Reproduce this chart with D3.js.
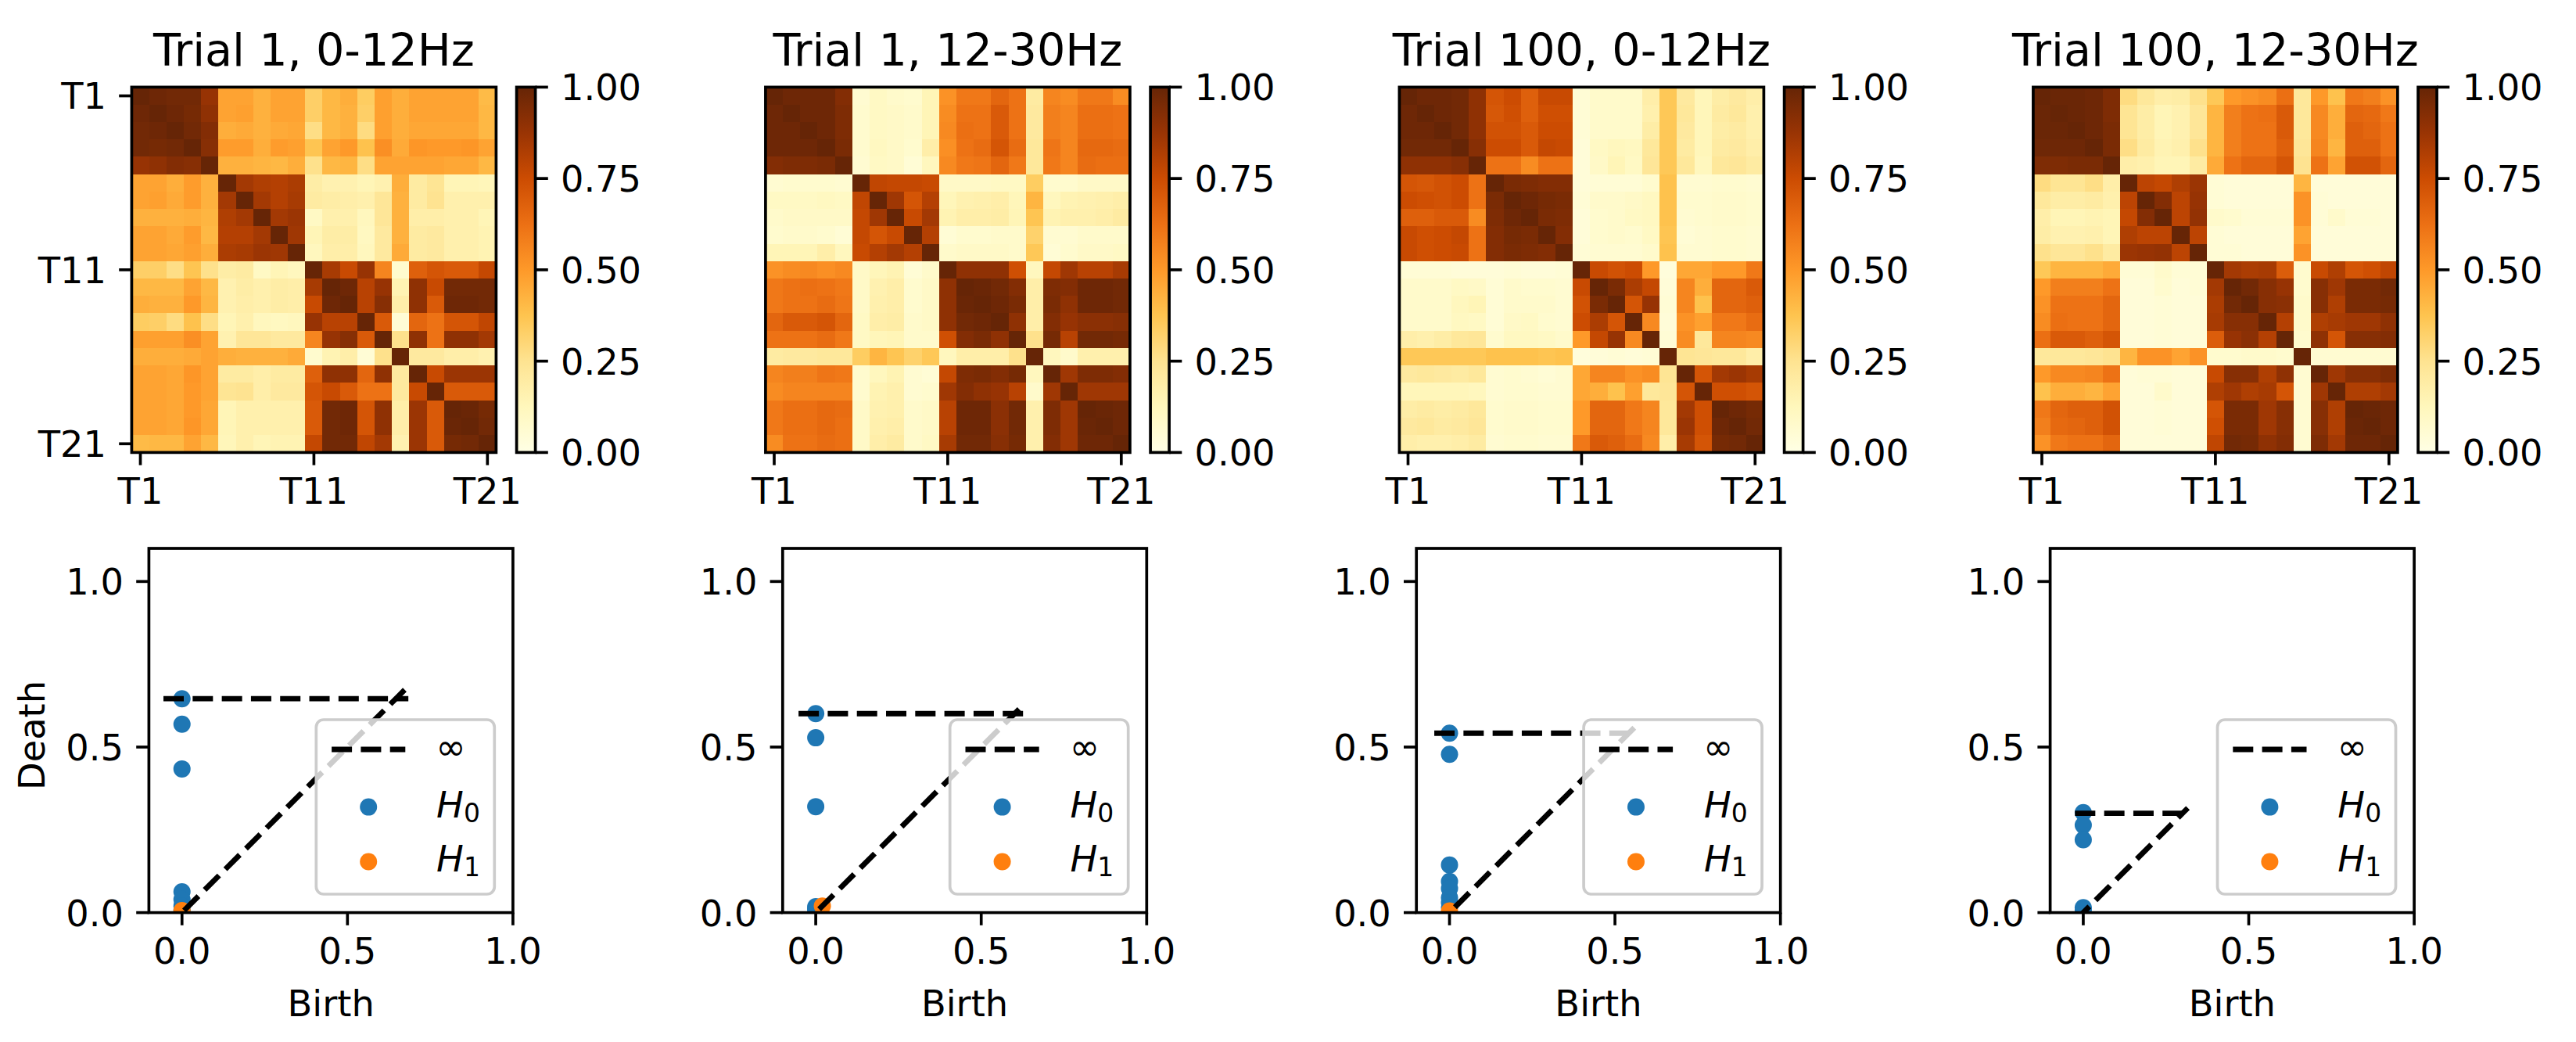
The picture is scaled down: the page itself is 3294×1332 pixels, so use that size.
<!DOCTYPE html>
<html>
<head>
<meta charset="utf-8">
<script src="https://cdn.jsdelivr.net/npm/d3@7"></script>
<style>
	body { margin: 0; background: #fff; }
	text { font-family: "DejaVu Sans", sans-serif; fill: #000; }
	.tick line { stroke: #000; stroke-width: 3.7px; }
	.tick text { font-size: 46.3px; }
</style>
</head>
<body>
<div id="chart"></div>
<script>
// panel titles
var titles = ['Trial 1, 0-12Hz', 'Trial 1, 12-30Hz', 'Trial 100, 0-12Hz', 'Trial 100, 12-30Hz'];

// tick labels
var tetrodeTicks = [0, 10, 20],
	tetrodeLabels = ['T1', 'T11', 'T21'],
	colorbarTicks = [0, 0.25, 0.5, 0.75, 1],
	diagramTicks = [0, 0.5, 1];

// correlation matrices, in percent
var trial1Low = [
	[100,98,97,97,88,47,47,43,47,47,33,41,44,34,48,44,47,47,47,47,40],
	[98,100,98,96,90,47,48,43,47,47,33,41,43,33,48,44,47,47,47,47,41],
	[97,98,100,97,93,44,45,43,45,46,27,41,43,28,48,44,46,46,46,46,41],
	[97,96,97,100,92,49,49,44,49,48,37,47,50,38,53,45,51,50,50,51,47],
	[88,90,93,92,100,43,43,42,41,44,26,41,42,27,47,47,47,47,46,46,41],
	[47,47,44,49,43,100,85,82,81,83,19,16,16,14,16,44,20,24,14,14,13],
	[47,48,45,49,43,85,100,85,81,84,20,19,18,17,23,43,20,25,17,17,17],
	[43,43,43,44,42,82,85,100,85,87,10,17,17,12,23,43,18,18,17,17,14],
	[47,47,45,49,41,81,81,85,100,86,14,19,19,11,21,43,20,21,17,17,15],
	[47,47,46,48,44,83,84,87,86,100,12,18,18,12,21,45,20,21,17,17,15],
	[33,33,27,37,26,19,20,10,14,12,100,84,76,88,56,7,68,72,70,70,77],
	[41,41,41,47,41,16,19,17,19,18,84,100,98,80,88,15,90,76,97,97,97],
	[44,43,43,50,42,16,18,17,19,18,76,98,100,80,92,18,90,70,98,98,97],
	[34,33,28,38,27,14,17,12,11,12,88,80,80,100,70,5,66,62,72,72,78],
	[48,48,48,53,47,16,23,23,21,21,56,88,92,70,100,26,90,62,90,90,85],
	[44,44,44,45,47,44,43,43,43,45,7,15,18,5,26,100,21,21,18,18,16],
	[47,47,46,51,47,20,20,18,20,20,68,90,90,66,90,21,100,76,87,87,87],
	[47,47,46,50,47,24,25,18,21,21,72,76,70,62,62,21,76,100,70,70,70],
	[47,47,46,50,46,14,17,17,17,17,70,97,98,72,90,18,87,70,100,99,96],
	[47,47,46,51,46,14,17,17,17,17,70,97,98,72,90,18,87,70,99,100,97],
	[40,41,41,47,41,13,17,14,15,15,77,97,97,78,85,16,87,70,96,97,100]
];

var trial1High = [
	[100,98,98,98,93,6,10,8,7,14,52,60,60,66,62,20,56,54,60,60,54],
	[98,100,98,98,94,7,10,9,8,14,54,62,62,70,62,21,58,56,63,63,62],
	[98,98,100,98,94,7,10,9,8,14,55,63,62,70,62,21,58,56,63,63,62],
	[98,98,98,100,95,7,11,9,7,18,53,62,64,72,64,22,61,56,65,65,64],
	[93,94,94,95,100,6,10,9,5,12,55,60,61,66,60,22,60,56,64,63,63],
	[6,7,7,7,6,100,78,77,77,76,9,9,9,10,10,34,7,7,9,9,9],
	[10,10,10,11,10,78,100,86,72,81,13,16,17,18,13,42,12,15,16,17,18],
	[8,9,9,9,9,77,86,100,76,85,15,18,18,19,14,37,15,17,17,18,20],
	[7,8,8,7,5,77,72,76,100,81,5,7,7,8,8,32,6,6,8,8,8],
	[14,14,14,18,12,76,81,85,81,100,8,9,9,9,8,36,5,7,9,9,10],
	[52,54,55,53,55,9,13,15,5,8,100,90,90,90,74,12,77,86,80,80,84],
	[60,62,63,62,60,9,16,18,7,9,90,100,99,97,93,18,94,93,98,98,97],
	[60,62,62,64,61,9,17,18,7,9,90,99,100,98,95,18,95,90,98,98,97],
	[66,70,70,72,66,10,18,19,8,9,90,97,98,100,90,18,93,88,91,91,92],
	[62,62,62,64,60,10,13,14,8,8,74,93,95,90,100,26,96,80,97,97,96],
	[20,21,21,22,22,34,42,37,32,36,12,18,18,18,26,100,12,8,17,17,17],
	[56,58,58,61,60,7,12,15,6,5,77,94,95,93,96,12,100,86,94,94,93],
	[54,56,56,56,56,7,15,17,6,7,86,93,90,88,80,8,86,100,86,86,86],
	[60,63,63,65,64,9,16,17,8,9,80,98,98,91,97,17,94,86,100,99,98],
	[60,63,63,65,63,9,17,18,8,9,80,98,98,91,97,17,94,86,99,100,98],
	[54,62,62,64,63,9,18,20,8,10,84,97,97,92,96,17,93,86,98,98,100]
];

var trial100Low = [
	[100,98,98,97,90,72,75,68,76,76,5,8,8,8,18,36,21,13,19,21,18],
	[98,100,98,97,90,71,74,68,74,74,5,8,8,8,17,36,22,13,20,22,17],
	[98,98,100,97,90,73,73,70,75,75,5,8,8,8,19,36,21,13,19,20,17],
	[97,97,97,100,92,75,75,70,77,76,4,10,12,11,22,36,20,13,20,21,18],
	[90,90,90,92,100,62,62,54,62,62,4,9,14,10,23,36,22,12,22,23,20],
	[72,71,73,75,62,100,95,94,93,93,4,5,5,5,7,38,6,6,7,7,6],
	[75,74,73,75,62,95,100,98,96,95,5,8,8,9,11,38,7,7,8,8,7],
	[68,68,70,70,54,94,98,100,95,94,4,7,8,10,11,38,6,7,8,8,7],
	[76,74,75,77,62,93,96,95,100,93,4,7,8,7,10,37,5,6,7,7,6],
	[76,74,75,76,62,93,95,94,93,100,5,6,6,6,8,38,6,6,7,7,6],
	[5,5,5,4,4,4,5,4,4,5,100,76,73,75,50,3,46,46,50,50,60],
	[8,8,8,10,9,5,8,7,7,6,76,100,95,83,77,4,56,44,66,66,70],
	[8,8,8,12,14,5,8,8,8,6,73,95,100,72,88,5,56,38,66,66,68],
	[8,8,8,11,10,5,9,10,7,6,75,83,72,100,55,4,52,48,60,60,64],
	[18,17,19,22,23,7,11,11,10,8,50,77,88,55,100,5,54,22,56,56,55],
	[36,36,36,36,36,38,38,38,37,38,3,4,5,4,5,100,24,23,22,22,18],
	[21,22,21,20,22,6,7,6,5,6,46,56,56,52,54,24,100,72,85,87,84],
	[13,13,13,13,12,6,7,7,6,6,46,44,38,48,22,23,72,100,74,74,72],
	[19,20,19,20,22,7,8,8,7,7,50,66,66,60,56,22,85,74,100,98,96],
	[21,22,20,21,23,7,8,8,7,7,50,66,66,60,56,22,87,74,98,100,97],
	[18,17,17,18,20,6,7,7,6,6,60,70,68,64,55,18,84,72,96,97,100]
];

var trial100High = [
	[100,99,99,98,94,28,22,18,19,26,36,50,52,54,63,22,50,38,60,58,52],
	[99,100,99,98,94,24,19,14,16,23,42,58,62,63,70,22,55,44,66,65,60],
	[99,99,100,98,95,24,19,14,16,23,42,58,62,62,70,22,55,44,68,66,62],
	[98,98,98,100,95,27,20,15,17,26,42,58,62,62,68,23,56,42,68,68,62],
	[94,94,95,95,100,18,17,14,14,20,45,62,66,66,72,25,62,47,73,73,66],
	[28,24,24,27,18,100,79,77,82,87,5,4,4,4,4,42,4,4,4,4,4],
	[22,19,19,20,17,79,100,93,79,88,5,4,4,4,4,52,5,4,4,4,4],
	[18,14,14,15,14,77,93,100,79,89,8,7,5,5,5,52,5,8,5,5,4],
	[19,16,16,17,14,82,79,79,100,79,5,4,4,4,4,47,4,4,4,4,4],
	[26,23,23,26,20,87,88,89,79,100,5,5,4,4,4,52,4,4,4,4,4],
	[36,42,42,42,45,5,5,8,5,5,100,85,83,84,69,7,76,82,72,74,78],
	[50,58,58,58,62,4,4,7,4,5,85,100,97,92,88,7,92,86,95,95,97],
	[52,62,62,62,66,4,4,5,4,4,83,97,100,92,91,8,92,82,95,95,96],
	[54,63,62,62,66,4,4,5,4,4,84,92,92,100,81,8,82,84,86,86,90],
	[63,70,70,68,72,4,4,5,4,4,69,88,91,81,100,7,90,72,92,92,93],
	[22,22,22,23,25,42,52,52,47,52,7,7,8,8,7,100,6,6,6,6,6],
	[50,55,55,56,62,4,5,5,4,4,76,92,92,82,90,6,100,86,92,92,94],
	[38,44,44,42,47,4,4,8,4,4,82,86,82,84,72,6,86,100,82,82,85],
	[60,66,68,68,73,4,4,5,4,4,72,95,95,86,92,6,92,82,100,99,98],
	[58,65,66,68,73,4,4,5,4,4,74,95,95,86,92,6,92,82,99,100,98],
	[52,60,62,62,66,4,4,4,4,4,78,97,96,90,93,6,94,85,98,98,100]
];

var matrices = [trial1Low, trial1High, trial100Low, trial100High];

// persistence diagrams: H0 points are all born at 0, so only the deaths are listed
var h0Deaths = [
	[0.646, 0.569, 0.434, 0.063, 0.04, 0.02, 0.008],
	[0.601, 0.528, 0.32, 0.018, 0.012, 0.008],
	[0.542, 0.478, 0.144, 0.094, 0.073, 0.045, 0.03, 0.015],
	[0.302, 0.264, 0.22, 0.015, 0.008]
];
var h1Births = [[0], [0.02], [0], []],
	h1Deaths = [[0.006], [0.02], [0.005], []];

// ends of the diagonal and the infinity line, and the height of the infinity line
var lineStart = [-0.056, -0.052, -0.046, -0.025],
	lineEnd = [0.684, 0.63, 0.563, 0.316],
	infinity = [0.646, 0.601, 0.542, 0.3];

// svg container
var svgWidth = 3294,
	svgHeight = 1332;

var svg = d3.select('#chart')
	.append('svg')
	.attr('width', svgWidth)
	.attr('height', svgHeight)
	.style('display', 'block');

var defs = svg.append('defs');

// panel layout
var heatSize = { w: 466, h: 467 },
	heatTop = 111.4,
	heatLeft = i => 168.4 + i * 810.5,
	barGap = 26.2,
	barWidth = 24,
	plotSize = { w: 465.5, h: 465.6 },
	plotTop = 701,
	plotLeft = i => 190.4 + i * 810.4;

var lineWidth = 3.7,
	dashWidth = 6.9,
	dash = '26 11.3',
	dotRadius = 11,
	blue = '#1f77b4',
	orange = '#ff7f0e';

// same colours as the YlOrBr colormap, linear between its 9 stops
var colorStops = d3.schemeYlOrBr[9],
	color = d3.scaleLinear()
		.domain(colorStops.map((c, i) => i / 8))
		.range(colorStops);

var gradient = defs.append('linearGradient')
	.attr('id', 'barGradient')
	.attr('x1', 0).attr('x2', 0)
	.attr('y1', 1).attr('y2', 0);
gradient.selectAll('stop')
	.data(colorStops)
	.enter()
	.append('stop')
	.attr('offset', (c, i) => i / 8)
	.attr('stop-color', c => c);

function centerLabels(axisGroup) {
	axisGroup.select('.domain').remove();
	axisGroup.selectAll('.tick text').attr('dy', '.365em');
}

function frame(group, w, h) {
	group.append('rect')
		.attr('width', w)
		.attr('height', h)
		.attr('fill', 'none')
		.attr('stroke', '#000')
		.attr('stroke-width', lineWidth);
}

// top row, correlation heatmaps with a colorbar
matrices.forEach((matrix, p) => {
	var g = svg.append('g')
		.attr('transform', `translate(${heatLeft(p)},${heatTop})`);

	var xScale = d3.scaleBand().domain(d3.range(21)).range([0, heatSize.w]),
		yScale = d3.scaleBand().domain(d3.range(21)).range([0, heatSize.h]);

	matrix.forEach((row, r) => {
		g.append('g').selectAll('rect')
			.data(row)
			.enter()
			.append('rect')
			.attr('x', (v, c) => xScale(c))
			.attr('y', yScale(r))
			.attr('width', xScale.bandwidth() + 0.5)
			.attr('height', yScale.bandwidth() + 0.5)
			.attr('shape-rendering', 'crispEdges')
			.attr('fill', v => color(v / 100));
	});

	var tickName = d => tetrodeLabels[tetrodeTicks.indexOf(d)];

	var xAxis = g.append('g')
		.attr('transform', `translate(0,${heatSize.h})`)
		.call(d3.axisBottom(xScale).tickValues(tetrodeTicks).tickFormat(tickName)
			.tickSize(16.2).tickPadding(16.6).offset(0));
	xAxis.select('.domain').remove();

	// only the first heatmap keeps its y axis
	if (p === 0) {
		g.append('g')
			.call(d3.axisLeft(yScale).tickValues(tetrodeTicks).tickFormat(tickName)
				.tickSize(16.2).tickPadding(16.2).offset(0))
			.call(centerLabels);
	}

	frame(g, heatSize.w, heatSize.h);

	g.append('text')
		.attr('x', heatSize.w / 2)
		.attr('y', 84 - heatTop)
		.attr('text-anchor', 'middle')
		.style('font-size', '57.2px')
		.text(titles[p]);

	// colorbar
	var bar = g.append('g')
		.attr('transform', `translate(${heatSize.w + barGap},0)`);
	bar.append('rect')
		.attr('width', barWidth)
		.attr('height', heatSize.h)
		.attr('fill', 'url(#barGradient)');

	var barScale = d3.scaleLinear().domain([0, 1]).range([heatSize.h, 0]);
	bar.append('g')
		.attr('transform', `translate(${barWidth},0)`)
		.call(d3.axisRight(barScale).tickValues(colorbarTicks).tickFormat(d3.format('.2f'))
			.tickSize(16.2).tickPadding(16.2).offset(0))
		.call(centerLabels);
	frame(bar, barWidth, heatSize.h);
});

// bottom row, persistence diagrams
titles.forEach((title, p) => {
	var g = svg.append('g')
		.attr('transform', `translate(${plotLeft(p)},${plotTop})`);

	var xScale = d3.scaleLinear().domain([-0.1, 1]).range([0, plotSize.w]),
		yScale = d3.scaleLinear().domain([0, 1.1]).range([plotSize.h, 0]);

	defs.append('clipPath')
		.attr('id', `plotClip${p}`)
		.append('rect')
		.attr('width', plotSize.w)
		.attr('height', plotSize.h);

	var plot = g.append('g').attr('clip-path', `url(#plotClip${p})`);

	plot.selectAll('.h0')
		.data(h0Deaths[p])
		.enter()
		.append('circle')
		.attr('class', 'h0')
		.attr('cx', xScale(0))
		.attr('cy', d => yScale(d))
		.attr('r', dotRadius)
		.attr('fill', blue);

	plot.selectAll('.h1')
		.data(h1Deaths[p])
		.enter()
		.append('circle')
		.attr('class', 'h1')
		.attr('cx', (d, i) => xScale(h1Births[p][i]))
		.attr('cy', d => yScale(d))
		.attr('r', dotRadius)
		.attr('fill', orange);

	var line = d3.line().x(d => xScale(d[0])).y(d => yScale(d[1]));

	plot.append('path')
		.attr('d', line([[lineStart[p], lineStart[p]], [lineEnd[p], lineEnd[p]]]))
		.attr('fill', 'none')
		.attr('stroke', '#000')
		.attr('stroke-width', dashWidth)
		.attr('stroke-dasharray', dash);

	plot.append('path')
		.attr('d', line([[lineStart[p], infinity[p]], [lineEnd[p], infinity[p]]]))
		.attr('fill', 'none')
		.attr('stroke', '#000')
		.attr('stroke-width', dashWidth)
		.attr('stroke-dasharray', dash);

	g.append('g')
		.attr('transform', `translate(0,${plotSize.h})`)
		.call(d3.axisBottom(xScale).tickValues(diagramTicks).tickFormat(d3.format('.1f'))
			.tickSize(16.2).tickPadding(16.6).offset(0))
		.select('.domain').remove();

	g.append('g')
		.call(d3.axisLeft(yScale).tickValues(diagramTicks).tickFormat(d3.format('.1f'))
			.tickSize(16.2).tickPadding(16.2).offset(0))
		.call(centerLabels);

	frame(g, plotSize.w, plotSize.h);

	g.append('text')
		.attr('x', plotSize.w / 2)
		.attr('y', 1298.6 - plotTop)
		.attr('text-anchor', 'middle')
		.style('font-size', '46.3px')
		.text('Birth');

	if (p === 0) {
		g.append('text')
			.attr('transform', `translate(${57 - plotLeft(0)},${940 - plotTop})rotate(-90)`)
			.attr('text-anchor', 'middle')
			.style('font-size', '46.3px')
			.text('Death');
	}

	// legend, sits over the lines with a see-through white box
	var legend = g.append('g')
		.attr('transform', `translate(${plotSize.w - 251.6},${920 - plotTop})`);

	legend.append('rect')
		.attr('width', 228)
		.attr('height', 223)
		.attr('rx', 9.5)
		.attr('fill', '#fff')
		.attr('fill-opacity', 0.8)
		.attr('stroke', '#ccc')
		.attr('stroke-width', 3.7);

	legend.append('line')
		.attr('x1', 19.8)
		.attr('x2', 114)
		.attr('y1', 38)
		.attr('y2', 38)
		.attr('stroke', '#000')
		.attr('stroke-width', dashWidth)
		.attr('stroke-dasharray', dash);

	legend.append('text')
		.attr('x', 153)
		.attr('y', 51)
		.style('font-size', '46.3px')
		.text('∞');

	[['0', blue, 111.6, 124.5], ['1', orange, 181.5, 193.5]].forEach(item => {
		legend.append('circle')
			.attr('cx', 66.9)
			.attr('cy', item[2])
			.attr('r', dotRadius)
			.attr('fill', item[1]);

		var label = legend.append('text')
			.attr('x', 153.8)
			.attr('y', item[3])
			.style('font-size', '46.3px');
		label.append('tspan')
			.style('font-style', 'italic')
			.text('H');
		label.append('tspan')
			.attr('dy', 6.5)
			.style('font-size', '33px')
			.text(item[0]);
	});
});
</script>
</body>
</html>
